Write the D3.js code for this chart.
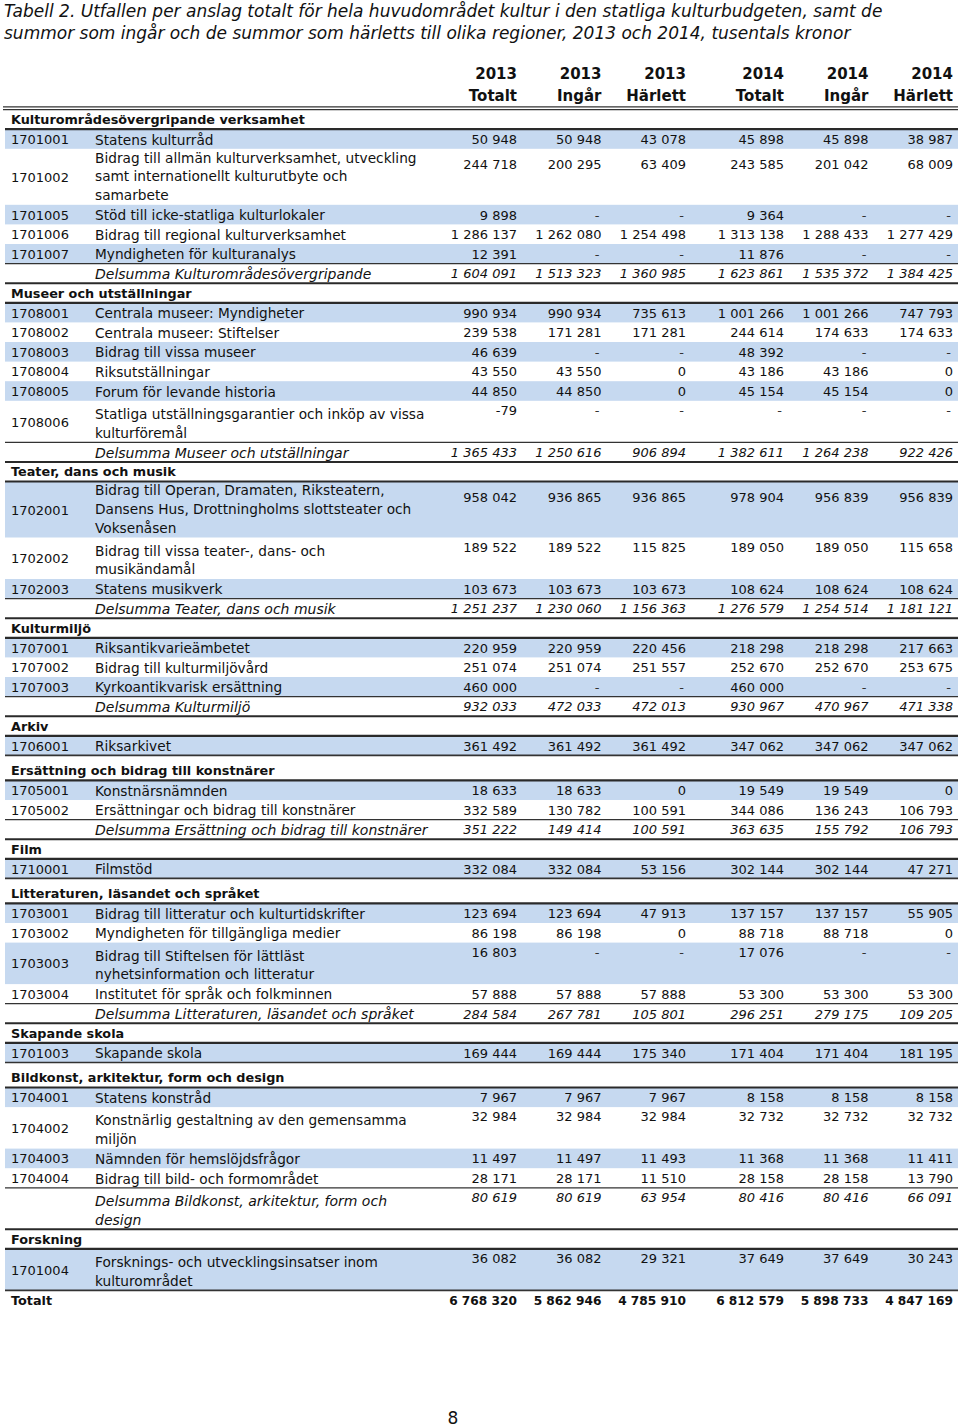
<!DOCTYPE html>
<html><head><meta charset="utf-8">
<script src="https://cdn.jsdelivr.net/npm/d3@7"></script>
<style>body{margin:0;background:#fff}svg{display:block}</style>
</head><body><svg id="c" width="960" height="1427"></svg>
<script>
const titleLines = [
  "Tabell 2. Utfallen per anslag totalt för hela huvudområdet kultur i den statliga kulturbudgeten, samt de",
  "summor som ingår och de summor som härletts till olika regioner, 2013 och 2014, tusentals kronor"
];
const yearLabels = ["2013","2013","2013","2014","2014","2014"];
const kindLabels = ["Totalt","Ingår","Härlett","Totalt","Ingår","Härlett"];

const sectionNames = [
  "Kulturområdesövergripande verksamhet",
  "Museer och utställningar",
  "Teater, dans och musik",
  "Kulturmiljö",
  "Arkiv",
  "Ersättning och bidrag till konstnärer",
  "Film",
  "Litteraturen, läsandet och språket",
  "Skapande skola",
  "Bildkonst, arkitektur, form och design",
  "Forskning"
];
const subtotalNames = [
  "Delsumma Kulturområdesövergripande",
  "Delsumma Museer och utställningar",
  "Delsumma Teater, dans och musik",
  "Delsumma Kulturmiljö",
  null,
  "Delsumma Ersättning och bidrag till konstnärer",
  null,
  "Delsumma Litteraturen, läsandet och språket",
  null,
  "Delsumma Bildkonst, arkitektur, form och\ndesign",
  null
];
const itemSection = [0,0,0,0,0, 1,1,1,1,1,1, 2,2,2, 3,3,3, 4, 5,5, 6, 7,7,7,7, 8, 9,9,9,9, 10];
const itemCodes = [
  "1701001","1701002","1701005","1701006","1701007",
  "1708001","1708002","1708003","1708004","1708005","1708006",
  "1702001","1702002","1702003",
  "1707001","1707002","1707003",
  "1706001",
  "1705001","1705002",
  "1710001",
  "1703001","1703002","1703003","1703004",
  "1701003",
  "1704001","1704002","1704003","1704004",
  "1701004"
];
const itemLabels = [
  "Statens kulturråd",
  "Bidrag till allmän kulturverksamhet, utveckling\nsamt internationellt kulturutbyte och\nsamarbete",
  "Stöd till icke-statliga kulturlokaler",
  "Bidrag till regional kulturverksamhet",
  "Myndigheten för kulturanalys",
  "Centrala museer: Myndigheter",
  "Centrala museer: Stiftelser",
  "Bidrag till vissa museer",
  "Riksutställningar",
  "Forum för levande historia",
  "Statliga utställningsgarantier och inköp av vissa\nkulturföremål",
  "Bidrag till Operan, Dramaten, Riksteatern,\nDansens Hus, Drottningholms slottsteater och\nVoksenåsen",
  "Bidrag till vissa teater-, dans- och\nmusikändamål",
  "Statens musikverk",
  "Riksantikvarieämbetet",
  "Bidrag till kulturmiljövård",
  "Kyrkoantikvarisk ersättning",
  "Riksarkivet",
  "Konstnärsnämnden",
  "Ersättningar och bidrag till konstnärer",
  "Filmstöd",
  "Bidrag till litteratur och kulturtidskrifter",
  "Myndigheten för tillgängliga medier",
  "Bidrag till Stiftelsen för lättläst\nnyhetsinformation och litteratur",
  "Institutet för språk och folkminnen",
  "Skapande skola",
  "Statens konstråd",
  "Konstnärlig gestaltning av den gemensamma\nmiljön",
  "Nämnden för hemslöjdsfrågor",
  "Bidrag till bild- och formområdet",
  "Forsknings- och utvecklingsinsatser inom\nkulturområdet"
];
// null = "-"
const totalt2013 = [50948,244718,9898,1286137,12391, 990934,239538,46639,43550,44850,-79, 958042,189522,103673, 220959,251074,460000, 361492, 18633,332589, 332084, 123694,86198,16803,57888, 169444, 7967,32984,11497,28171, 36082];
const ingar2013  = [50948,200295,null,1262080,null, 990934,171281,null,43550,44850,null, 936865,189522,103673, 220959,251074,null, 361492, 18633,130782, 332084, 123694,86198,null,57888, 169444, 7967,32984,11497,28171, 36082];
const harlett2013= [43078,63409,null,1254498,null, 735613,171281,null,0,0,null, 936865,115825,103673, 220456,251557,null, 361492, 0,100591, 53156, 47913,0,null,57888, 175340, 7967,32984,11493,11510, 29321];
const totalt2014 = [45898,243585,9364,1313138,11876, 1001266,244614,48392,43186,45154,null, 978904,189050,108624, 218298,252670,460000, 347062, 19549,344086, 302144, 137157,88718,17076,53300, 171404, 8158,32732,11368,28158, 37649];
const ingar2014  = [45898,201042,null,1288433,null, 1001266,174633,null,43186,45154,null, 956839,189050,108624, 218298,252670,null, 347062, 19549,136243, 302144, 137157,88718,null,53300, 171404, 8158,32732,11368,28158, 37649];
const harlett2014= [38987,68009,null,1277429,null, 747793,174633,null,0,0,null, 956839,115658,108624, 217663,253675,null, 347062, 0,106793, 47271, 55905,0,null,53300, 181195, 8158,32732,11411,13790, 30243];
const subtotalValues = [
  [1604091,1513323,1360985,1623861,1535372,1384425],
  [1365433,1250616,906894,1382611,1264238,922426],
  [1251237,1230060,1156363,1276579,1254514,1181121],
  [932033,472033,472013,930967,470967,471338],
  null,
  [351222,149414,100591,363635,155792,106793],
  null,
  [284584,267781,105801,296251,279175,109205],
  null,
  [80619,80619,63954,80416,80416,66091],
  null
];
const totalLabel = "Totalt";
const grandTotal = [6768320,5862946,4785910,6812579,5898733,4847169];
const pageNumber = "8";

// ---------- rendering ----------
const svg = d3.select("#c");
const FONT = "'DejaVu Sans', sans-serif";
const BLUE = "#c6d9f0";
const INK = "#111";
const locale = d3.formatLocale({decimal:",", thousands:" ", grouping:[3], currency:["",""], minus:"-"});
const fmt = locale.format(",d");
const show = v => v == null ? "-" : fmt(v);

const left = 5, right = 958;
const codeX = 11, labelX = 95;
const yearX = d3.scaleOrdinal().domain(["2013","2014"]).range([517, 784]);
const kindX = d3.scalePoint().domain(["Totalt","Ingår","Härlett"]).range([0, 169]);
const colX = i => yearX(yearLabels[i]) + kindX(kindLabels[i]);

const H1 = 19.6, LH = 18.7;
const heightFor = n => n === 1 ? H1 : (n === 2 ? 41.5 : 56);

// Title
svg.append("g").selectAll("text").data(titleLines).join("text")
  .attr("x", 4).attr("y", (d,i) => 11 + i*21.5)
  .attr("dominant-baseline","central")
  .attr("font-family", FONT).attr("font-style","italic").attr("font-size", 17)
  .attr("fill", INK).text(d => d);

// Column headers
const hdr = svg.append("g");
hdr.selectAll("text.yr").data(d3.range(6)).join("text").attr("class","yr")
  .attr("x", colX).attr("y", 74).attr("text-anchor","end").attr("dominant-baseline","central")
  .attr("font-family", FONT).attr("font-weight","bold").attr("font-size", 15).attr("fill", INK)
  .text(i => yearLabels[i]);
hdr.selectAll("text.kd").data(d3.range(6)).join("text").attr("class","kd")
  .attr("x", colX).attr("y", 96).attr("text-anchor","end").attr("dominant-baseline","central")
  .attr("font-family", FONT).attr("font-weight","bold").attr("font-size", 15).attr("fill", INK)
  .text(i => kindLabels[i]);
hdr.selectAll("line").data([106.8, 109.6]).join("line")
  .attr("x1", 3).attr("x2", right).attr("y1", d => d).attr("y2", d => d)
  .attr("stroke", "#333").attr("stroke-width", 1.3);

// Build rows
const itemCols = [totalt2013, ingar2013, harlett2013, totalt2014, ingar2014, harlett2014];
const rows = [];
sectionNames.forEach((name, s) => {
  const prevNoSub = s > 0 && subtotalValues[s-1] == null;
  rows.push({type:"section", label:name, h: prevNoSub ? 25 : H1});
  let k = 0;
  itemSection.forEach((sec, i) => {
    if (sec !== s) return;
    const lines = itemLabels[i].split("\n");
    rows.push({type:"item", code:itemCodes[i], lines, values:itemCols.map(c => c[i]), blue:k % 2 === 0, h:heightFor(lines.length)});
    k++;
  });
  if (subtotalValues[s]) {
    const lines = subtotalNames[s].split("\n");
    rows.push({type:"subtotal", lines, values:subtotalValues[s], h:heightFor(lines.length)});
  } else {
    rows[rows.length-1].lineBelow = true;
  }
});
rows.push({type:"total", label:totalLabel, values:grandTotal, h:H1});

let yAcc = 109.6;
rows.forEach(r => { r.y0 = yAcc; yAcc += r.h; r.y1 = yAcc; });

const body = svg.append("g");
const bg = body.append("g"), lineG = body.append("g"), txt = body.append("g");

// backgrounds
bg.selectAll("rect").data(rows.filter(r => r.type === "item" && r.blue)).join("rect")
  .attr("x", left).attr("width", right - left)
  .attr("y", r => r.y0).attr("height", r => r.h).attr("fill", BLUE);

// rules
const rules = [];
rows.forEach(r => {
  if (r.type === "section") rules.push({y:r.y1, w:2.2, c:"#2a2a2a"});
  if (r.type === "subtotal") { rules.push({y:r.y0, w:1.2, c:"#333"}); rules.push({y:r.y1, w:2, c:"#2a2a2a"}); }
  if (r.lineBelow) rules.push({y:r.y1, w:1.6, c:"#333"});
});
lineG.selectAll("line").data(rules).join("line")
  .attr("x1", left).attr("x2", right).attr("y1", d => d.y).attr("y2", d => d.y)
  .attr("stroke", d => d.c).attr("stroke-width", d => d.w);

// section & total labels
txt.selectAll("text.sec").data(rows.filter(r => r.type === "section" || r.type === "total")).join("text")
  .attr("class","sec").attr("x", codeX).attr("y", r => r.y1 - 9.6)
  .attr("dominant-baseline","central")
  .attr("font-family", FONT).attr("font-weight","bold").attr("font-size", 12.8).attr("fill", INK)
  .text(r => r.label);

// codes
const items = rows.filter(r => r.type === "item");
txt.selectAll("text.code").data(items).join("text")
  .attr("class","code").attr("x", codeX).attr("y", r => (r.y0 + r.y1)/2 + 0.5)
  .attr("dominant-baseline","central")
  .attr("font-family", FONT).attr("font-size", 13).attr("fill", INK)
  .text(r => r.code);

// labels (items + subtotals)
const labelled = rows.filter(r => r.type === "item" || r.type === "subtotal");
txt.selectAll("g.lab").data(labelled).join("g").attr("class","lab")
  .each(function(r) {
    const n = r.lines.length;
    d3.select(this).selectAll("text").data(r.lines).join("text")
      .attr("x", labelX)
      .attr("y", (d,j) => n === 1 ? (r.y0 + r.y1)/2 + 0.5 : r.y1 - 9.8 - (n-1-j)*LH)
      .attr("dominant-baseline","central")
      .attr("font-family", FONT)
      .attr("font-style", r.type === "subtotal" ? "italic" : "normal")
      .attr("font-size", r.type === "subtotal" ? 14 : 13.7)
      .attr("fill", INK).text(d => d);
  });

// numbers
const numRows = rows.filter(r => r.values);
txt.selectAll("g.num").data(numRows).join("g").attr("class","num")
  .each(function(r) {
    const n = r.lines ? r.lines.length : 1;
    const yy = n === 1 ? (r.y0 + r.y1)/2 + 0.5 : r.y0 + (n === 3 ? 16 : 9.5);
    d3.select(this).selectAll("text").data(r.values).join("text")
      .attr("x", (d,i) => colX(i) - (d == null ? 2 : 0))
      .attr("y", yy)
      .attr("text-anchor","end").attr("dominant-baseline","central")
      .attr("font-family", FONT)
      .attr("font-style", r.type === "subtotal" ? "italic" : "normal")
      .attr("font-weight", r.type === "total" ? "bold" : "normal")
      .attr("font-size", r.type === "total" ? 12.2 : 13)
      .attr("fill", d => d == null ? "#333" : INK)
      .text(d => show(d));
  });

// page number
svg.append("text").attr("x", 453).attr("y", 1418).attr("text-anchor","middle")
  .attr("dominant-baseline","central").attr("font-family", FONT).attr("font-size", 17)
  .attr("fill", INK).text(pageNumber);
</script>
</body></html>
